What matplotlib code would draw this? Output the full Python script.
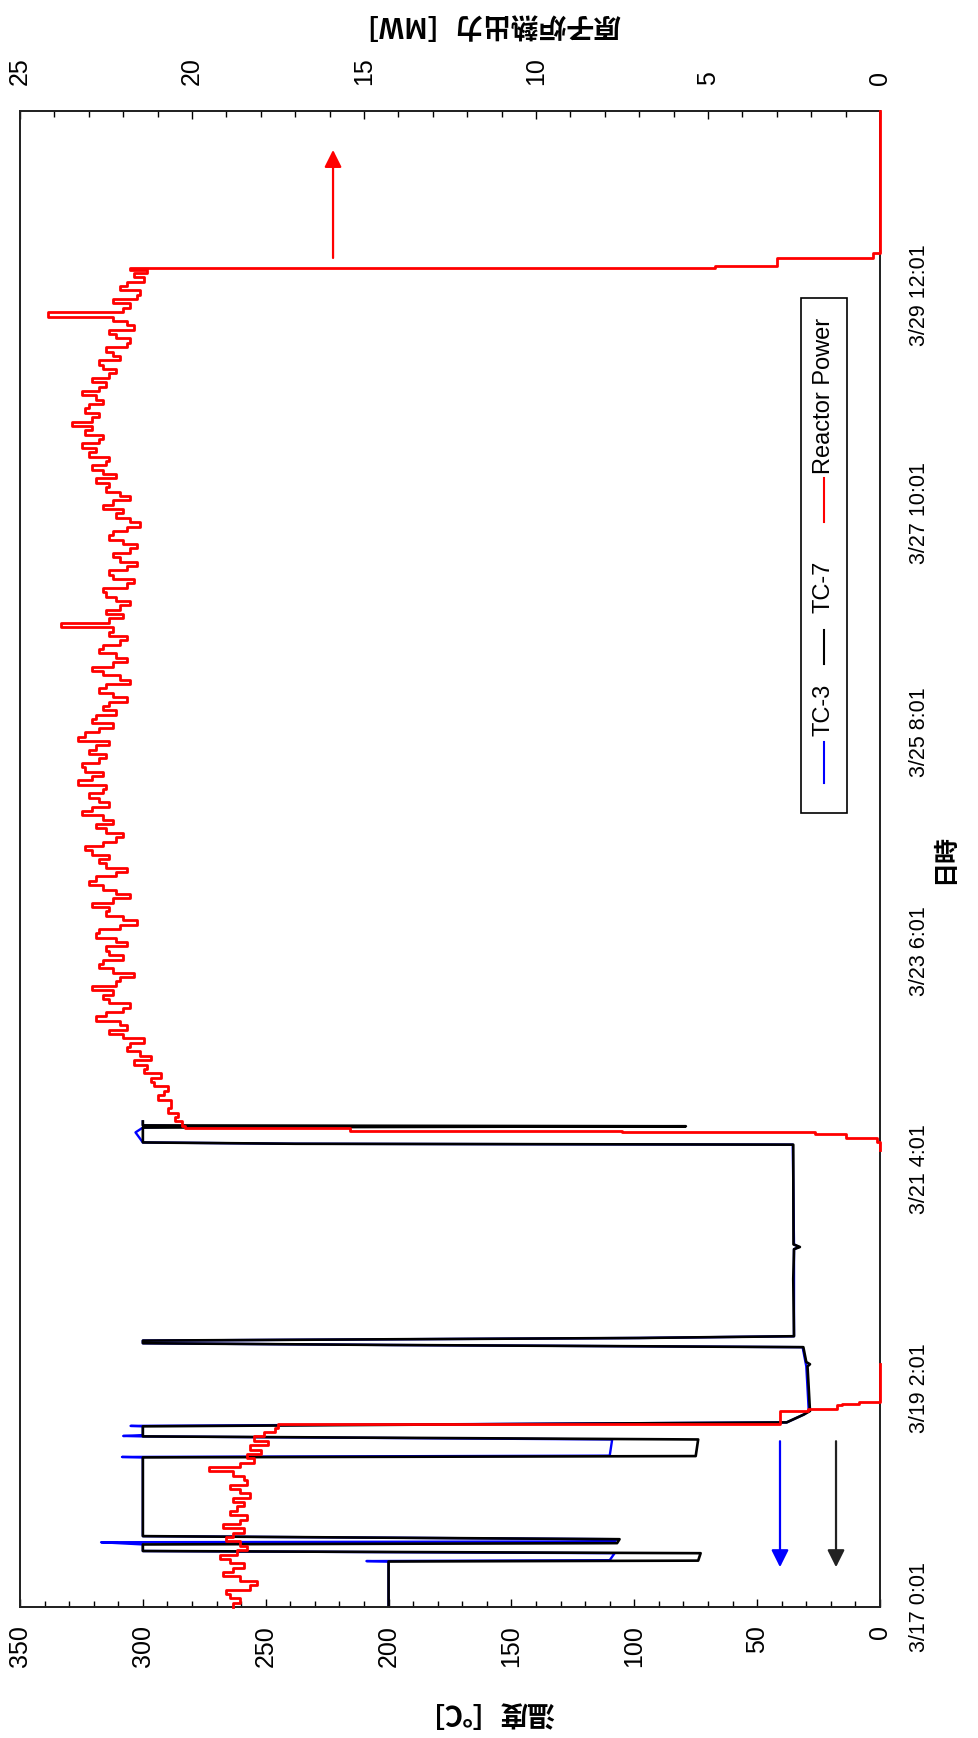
import numpy as np
import matplotlib
matplotlib.use('Agg')
import matplotlib.pyplot as plt
from matplotlib.lines import Line2D
from matplotlib.patches import Rectangle
from matplotlib.ticker import MultipleLocator

plt.rcParams['font.family'] = ['Liberation Sans', 'DejaVu Sans']

CJK = ['Noto Sans CJK JP', 'DejaVu Sans']

# time axis: elapsed hours from 3/17 0:01
date_ticks = [0, 50, 100, 150, 200, 250, 300]
date_labels = ['3/17 0:01', '3/19 2:01', '3/21 4:01', '3/23 6:01',
               '3/25 8:01', '3/27 10:01', '3/29 12:01']
hours_end = 342.0

temp_ticks = [0, 50, 100, 150, 200, 250, 300, 350]
power_ticks = [0, 5, 10, 15, 20, 25]

# TC-7 (black)
tc7_hours = [0, 10.4, 10.6, 12.3, 12.8, 14.3, 14.6, 15.5, 16.2, 34.2, 34.5, 38.3,
             39.0, 41.3, 42.2, 44.0, 44.8, 50.0, 55.0, 55.5, 56.0, 59.4, 59.6, 59.9,
             60.3, 60.9, 61.2, 61.5, 61.9, 75.0, 81.8, 82.3, 82.9, 105.7, 105.9, 106.2,
             109.6, 109.9, 110.1, 111.0]
tc7_temp = [200, 200, 74, 73, 300, 300, 107, 106, 300, 300, 75, 74,
            300, 300, 38, 31, 28.5, 29.0, 29.5, 28.5, 30.0, 31.2, 97, 200,
            300, 300, 200, 98, 35, 35.3, 35.0, 32.6, 35.2, 35.3, 238, 300,
            300, 79, 300, 300]

# TC-3 (blue)
tc3_hours = [0, 10.4, 10.5, 10.7, 12.3, 12.8, 14.3, 14.8, 15.0, 15.5, 16.2, 34.2,
             34.3, 34.6, 38.3, 39.0, 39.1, 39.3, 41.3, 41.4, 42.2, 44.0, 44.8, 50.0,
             55.0, 59.4, 59.6, 59.9, 60.3, 60.9, 61.2, 61.5, 61.9, 81.8, 82.3, 82.9,
             105.7, 105.9, 106.2, 108.5, 109.6, 109.9, 110.1, 111.0]
tc3_temp = [200, 200, 209, 110, 108, 300, 300, 317, 108, 107, 300, 300,
            308.5, 110, 109, 300, 308, 300, 300, 305, 38, 31, 29, 29.5,
            30, 31.5, 97, 200, 300, 300, 200, 98, 35, 35, 33, 35,
            35.5, 238, 300, 303, 300, 280, 300, 300]

# reactor power [MW], hourly readings during the first run (3/17 0:01 -)
power_run1 = [18.8, 18.6, 18.9, 19.0, 18.3, 18.1, 18.6, 19.1, 18.8, 18.5,
              18.9, 19.2, 18.7, 18.4, 18.6, 19.0, 18.8, 18.5, 19.1, 18.6,
              18.4, 18.9, 18.7, 18.5, 18.8, 18.3, 18.6, 18.9, 18.4, 18.5,
              18.8, 19.5, 18.6, 18.2, 18.4, 18.0, 18.3, 17.8, 18.2, 17.9,
              17.6, 17.5]

# shutdown on 3/18 and restart on 3/21
shutdown1_hours = [41.8, 44.8, 45.2, 46.2, 46.4, 46.8, 55.5, np.nan,
                   104.4, 106.2, 107.3, 108.1, 108.5, 108.8, 109.4]
shutdown1_power = [2.9, 2.1, 1.25, 1.1, 0.6, 0.0, 0.0, np.nan,
                   0.0, 0.1, 1.0, 1.9, 7.5, 15.4, 20.2]

# hourly readings during the second run (from 110 h)
power_run2 = [20.3, 20.5, 20.4, 20.7, 20.6, 20.6, 21.0, 20.8, 20.7, 21.1,
              21.2, 20.9, 21.4, 21.3, 21.7, 21.2, 21.5, 21.9, 21.8, 21.4,
              22.0, 22.4, 21.9, 22.1, 22.8, 22.5, 22.0, 21.8, 22.4, 22.6,
              22.3, 22.9, 22.2, 22.1, 21.7, 22.3, 22.7, 22.6, 22.0, 22.4,
              22.5, 21.9, 22.2, 22.8, 22.7, 22.1, 21.6, 22.0, 22.5, 22.4,
              22.9, 22.3, 21.8, 22.2, 22.6, 23.0, 22.8, 22.2, 21.9, 22.5,
              22.7, 22.4, 22.9, 23.1, 22.6, 22.2, 22.0, 22.5, 22.8, 22.3,
              22.6, 23.2, 22.9, 22.4, 22.7, 23.0, 22.6, 22.5, 23.3, 22.9,
              22.6, 23.1, 23.2, 22.7, 22.5, 23.0, 22.8, 22.4, 23.3, 23.1,
              22.7, 22.3, 22.9, 22.8, 22.2, 22.6, 22.4, 21.9, 22.3, 22.7,
              22.5, 21.8, 22.1, 22.6, 22.9, 22.3, 21.9, 22.2, 22.7, 22.6,
              22.1, 21.9, 22.4, 22.3, 23.8, 22.4, 22.0, 22.5, 22.1, 21.8,
              22.2, 22.5, 22.6, 21.9, 21.7, 22.3, 22.4, 21.9, 21.6, 22.1,
              22.3, 21.8, 21.6, 22.0, 22.4, 22.3, 21.9, 21.5, 21.8, 22.2,
              22.0, 22.6, 22.3, 21.8, 22.1, 22.5, 22.4, 22.8, 22.2, 22.6,
              22.9, 22.5, 22.4, 23.0, 22.8, 23.2, 22.7, 22.6, 23.1, 22.9,
              23.5, 22.9, 22.7, 23.1, 23.0, 22.6, 22.8, 23.2, 22.7, 22.5,
              22.9, 22.4, 22.2, 22.6, 22.7, 22.1, 22.3, 22.5, 21.9, 21.8,
              22.2, 22.4, 21.7, 21.9, 22.3, 24.2, 22.0, 21.8, 22.3, 21.6,
              21.5, 22.1, 21.9, 21.4, 21.7, 21.3]

# shutdown on 3/29
shutdown2_hours = [305.6, 306.1, 306.6, 308.5, 309.6, hours_end]
shutdown2_power = [21.8, 4.8, 3.0, 0.2, 0.0, 0.0]

power_hours = (list(range(len(power_run1))) + shutdown1_hours
               + list(range(110, 110 + len(power_run2))) + shutdown2_hours)
power_mw = power_run1 + shutdown1_power + power_run2 + shutdown2_power

W, H = 979, 1738
fig = plt.figure(figsize=(W / 100, H / 100), dpi=100)


def fx(x):
    return x / W


def fy(y):
    return 1 - y / H


ax = fig.add_axes([fx(20), fy(1607), 860 / W, 1496 / H])
ax2 = ax.twiny()

l3, = ax.plot(tc3_temp, tc3_hours, color='#0000ff', lw=1.7, label='TC-3', zorder=2)
l7, = ax.plot(tc7_temp, tc7_hours, color='black', lw=1.9, label='TC-7', zorder=3)
# power held between readings, so the trace steps sideways at each new reading
lp, = ax2.plot(power_mw, power_hours, color='#ff0000', lw=2.0, label='Reactor Power',
               drawstyle='steps-pre', zorder=3, clip_on=False)

ax.set_xlim(350, 0)
ax2.set_xlim(25, 0)
ax.set_ylim(0, hours_end)

ax.set_xticks(temp_ticks)
ax.set_xticklabels([str(t) for t in temp_ticks], rotation=90, fontsize=18)
ax.xaxis.set_minor_locator(MultipleLocator(10))
ax.tick_params(axis='x', which='major', direction='in', length=6, width=1, pad=13,
               bottom=True, top=False)
ax.tick_params(axis='x', which='minor', direction='in', length=4.5, width=1,
               bottom=True, top=False)

ax2.set_xticks(power_ticks)
ax2.set_xticklabels([str(p) for p in power_ticks], rotation=90, fontsize=18)
ax2.xaxis.set_minor_locator(MultipleLocator(1))
ax2.tick_params(axis='x', which='major', direction='in', length=6, width=1, pad=19,
                top=True, bottom=False)
ax2.tick_params(axis='x', which='minor', direction='in', length=4.5, width=1,
                top=True, bottom=False)

ax.yaxis.tick_right()
ax.set_yticks(date_ticks)
ax.set_yticklabels(date_labels, rotation=90, va='center', fontsize=15.5)
ax.tick_params(axis='y', which='both', length=0, pad=21, left=False, right=True)

for a in (ax, ax2):
    for s in a.spines.values():
        s.set_linewidth(1.3)
        s.set_color('#222222')

# direction arrows: temperature toward the bottom scale, power toward the top scale
ax.annotate('', xy=(40.7, 9.1), xytext=(40.7, 37.9),
            arrowprops=dict(arrowstyle='-|>', color='#0000ff', lw=1.6,
                            mutation_scale=26, shrinkA=0, shrinkB=0))
ax.annotate('', xy=(17.9, 9.1), xytext=(17.9, 37.9),
            arrowprops=dict(arrowstyle='-|>', color='#222222', lw=1.6,
                            mutation_scale=26, shrinkA=0, shrinkB=0))
ax2.annotate('', xy=(15.9, 333.1), xytext=(15.9, 308.4),
             arrowprops=dict(arrowstyle='-|>', color='#ff0000', lw=1.6,
                             mutation_scale=26, shrinkA=0, shrinkB=0))

# axis titles
fig.text(fx(485), fy(25), '原子炉熱出力［MW］', rotation=180, ha='center', va='center',
         fontfamily=CJK, fontsize=20, fontweight='bold')
fig.text(fx(485), fy(1713), '温度［℃］', rotation=180, ha='center', va='center',
         fontfamily=CJK, fontsize=20, fontweight='bold')
fig.text(fx(945), fy(859), '日時', rotation=90, ha='center', va='center',
         fontfamily=CJK, fontsize=18, fontweight='bold')

# legend, laid out along the time axis
fig.add_artist(Rectangle((fx(801), fy(813)), 46 / W, 515 / H, transform=fig.transFigure,
                         fill=False, lw=1.2, ec='black'))
entries = [(l3, 783, 742, 710), (l7, 664, 630, 587), (lp, 522, 478, 396)]
for line, y0, y1, yt in entries:
    fig.add_artist(Line2D([fx(824), fx(824)], [fy(y0), fy(y1)], transform=fig.transFigure,
                          color=line.get_color(), lw=1.5))
    fig.text(fx(824), fy(yt), line.get_label(), rotation=90, ha='center', va='center',
             fontsize=17)

fig.savefig('out.png', dpi=100)
